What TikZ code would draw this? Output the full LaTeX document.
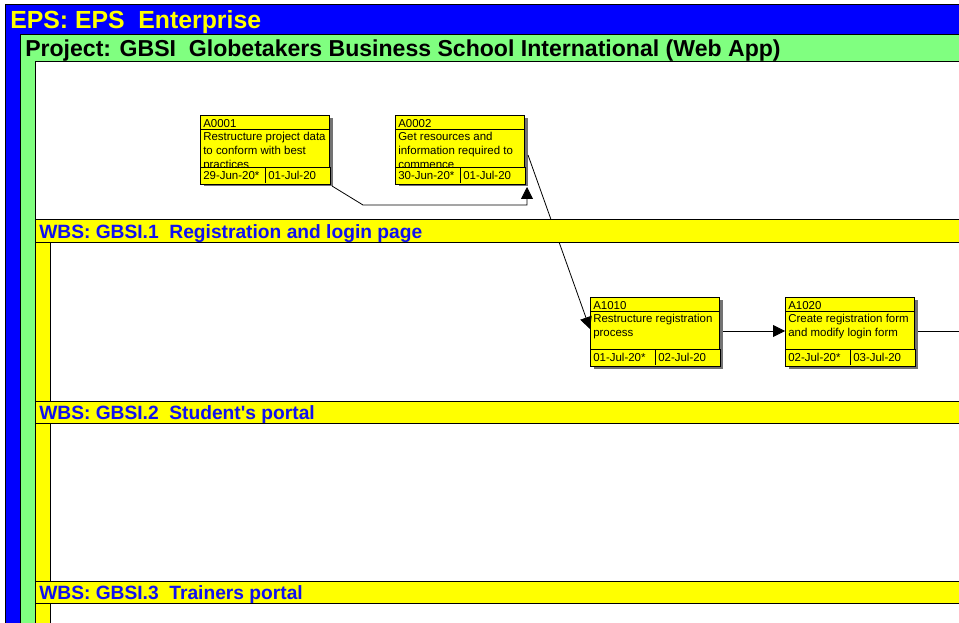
\documentclass[tikz,border=0pt]{standalone}
\usepackage{fontspec}
\setmainfont{Liberation Sans}
\usetikzlibrary{calc,arrows.meta,shadows}

\definecolor{epsblue}{RGB}{0,0,255}
\definecolor{projgreen}{RGB}{128,255,128}
\definecolor{wbsyellow}{RGB}{255,255,0}
\definecolor{wbstext}{RGB}{16,16,240}

\tikzset{
  frame/.style={draw=black, line width=0.75pt},
  act/.style={draw=black, fill=wbsyellow, line width=0.75pt, rectangle,
    minimum width=96.75pt, minimum height=51pt, inner sep=0pt,
    drop shadow={shadow xshift=2.25pt, shadow yshift=-2.25pt, fill=black!55, opacity=1}},
  acttext/.style={inner sep=0pt, font=\fontsize{8.6}{10.5}\selectfont, align=left},
  rowline/.style={draw=black, line width=0.6pt},
  conn/.style={draw=black, line width=0.6pt, -{Triangle[length=9pt,width=9pt]}},
  epstitle/.style={inner sep=0pt, anchor=base west, text=wbsyellow, font=\fontsize{18.6}{20}\selectfont\bfseries},
  projtitle/.style={inner sep=0pt, anchor=base west, text=black, font=\fontsize{17.3}{19}\selectfont\bfseries},
  wbstitle/.style={inner sep=0pt, anchor=base west, text=wbstext, font=\fontsize{14.4}{16}\selectfont\bfseries}
}

% activity box: name, left, top, id, description, start, finish
\newcommand\actbox[7]{%
  \node[act, anchor=north west] (#1) at (#2,#3) {};
  \draw[rowline] ($(#1.north west)+(0,14)$) -- ($(#1.north east)+(0,14)$);
  \node[acttext, anchor=west] (#1-id) at ($(#1.north west)+(3,8.5)$) {#4};
  \node[acttext, anchor=north west] (#1-desc) at ($(#1.north west)+(3,17)$) {#5};
  \draw[rowline, fill=wbsyellow] ($(#1.north west)+(0,52)$) rectangle (#1.south east);
  \draw[rowline] ($(#1.north west)+(65,52)$) -- ($(#1.north west)+(65,68)$);
  \node[acttext, anchor=west] (#1-start) at ($(#1.north west)+(3,60.5)$) {#6};
  \node[acttext, anchor=west] (#1-finish) at ($(#1.north west)+(68,60.5)$) {#7};
}

\begin{document}
\begin{tikzpicture}[x=0.75pt, y=-0.75pt]
\useasboundingbox (0,0) rectangle (959,623);
\clip (0,0) rectangle (959,623);

% EPS and project frames
\draw[frame, fill=epsblue] (5,5) rectangle (1000,700);
\draw[frame, fill=projgreen] (20,35) rectangle (1000,700);
\draw[frame, fill=white] (35,62) rectangle (1000,700);

% WBS frames (header bands are drawn later, above the connectors)
\draw[frame, fill=wbsyellow] (35,220) rectangle (1000,401);
\draw[frame, fill=white] (50,243) rectangle (1000,401);
\draw[frame, fill=wbsyellow] (35,401) rectangle (1000,581);
\draw[frame, fill=white] (50,423) rectangle (1000,581);
\draw[frame, fill=wbsyellow] (35,581) rectangle (1000,700);
\draw[frame, fill=white] (50,603) rectangle (1000,700);

\node[epstitle] (eps) at (10,29) {EPS: EPS\ \ Enterprise};
\node[projtitle] (proj) at (25,57) {Project: GBSI\ \ Globetakers Business School International (Web App)};

% activities
\actbox{a1}{200}{115}{A0001}{Restructure project data\\to conform with best\\practices}{29-Jun-20*}{01-Jul-20}
\actbox{a2}{395}{115}{A0002}{Get resources and\\information required to\\commence}{30-Jun-20*}{01-Jul-20}
\actbox{a3}{590}{297}{A1010}{Restructure registration\\process}{01-Jul-20*}{02-Jul-20}
\actbox{a4}{785}{297}{A1020}{Create registration form\\and modify login form}{02-Jul-20*}{03-Jul-20}

% relationships
\coordinate (out) at (970,331);
\draw[conn] ($(a1.south east)+(2,2)$) -- ($(a1.south east)+(33,21)$) -| ($(a2.south east)+(2,3)$);
\draw[conn] ($(a2.north east)+(3,40)$) -- ($(a3.north west)+(0,32)$);
\draw[conn] ($(a3.north east)+(3,34)$) -- ($(a4.north west)+(0,34)$);
\draw[line width=0.6pt] ($(a4.north east)+(3,34)$) -- (out);

% WBS header bands
\draw[frame, fill=wbsyellow] (35,220) rectangle (1000,243);
\node[wbstitle] (w1) at (39,239) {WBS: GBSI.1\ \ Registration and login page};
\draw[frame, fill=wbsyellow] (35,401) rectangle (1000,423);
\node[wbstitle] (w2) at (39,419.5) {WBS: GBSI.2\ \ Student\textquotesingle s portal};
\draw[frame, fill=wbsyellow] (35,581) rectangle (1000,603);
\node[wbstitle] (w3) at (39,599.5) {WBS: GBSI.3\ \ Trainers portal};
\end{tikzpicture}
\end{document}
